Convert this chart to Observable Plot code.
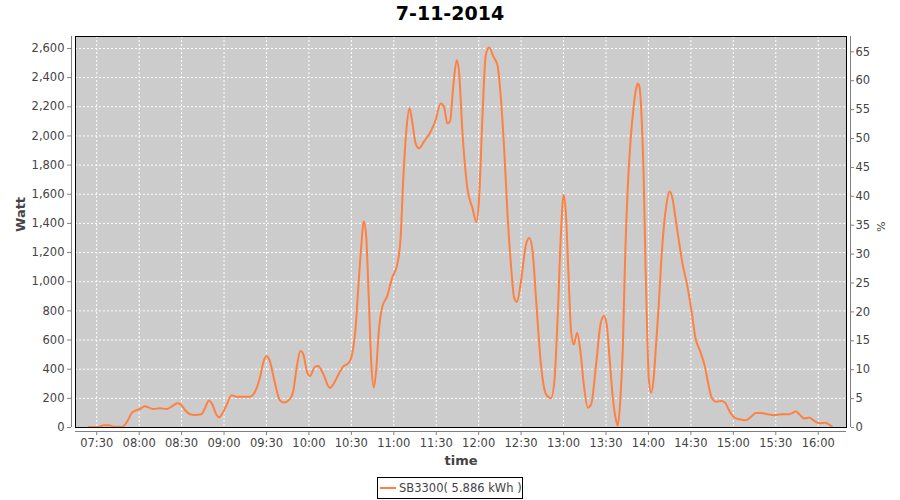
<!DOCTYPE html>
<html><head><meta charset="utf-8">
<script src="https://cdn.jsdelivr.net/npm/d3@7"></script>
<script src="https://cdn.jsdelivr.net/npm/@observablehq/plot@0.6"></script>
<style>
body{margin:0;background:#fff;font-family:"DejaVu Sans",sans-serif;}
#wrap{position:relative;width:900px;height:500px;overflow:hidden;background:#fff;}
#title{position:absolute;left:0;top:0;width:900px;height:27px;line-height:27px;text-align:center;font-weight:bold;font-size:19px;color:#000;}
#chart{position:absolute;left:0;top:30px;}
#legend{position:absolute;left:377px;top:477px;width:146px;height:22px;box-sizing:border-box;border:1px solid #000;font-size:11.5px;color:#444;display:flex;align-items:center;white-space:nowrap;}
#legend .sw{display:inline-block;width:16px;height:2px;margin-left:2px;margin-right:3px;}
</style></head>
<body><div id="wrap"><div id="title"></div><div id="chart"></div><div id="legend"></div></div>
<script>
const chartTitle = "7-11-2014";
const seriesName = "SB3300";
const seriesEnergy = "5.886 kWh";
const xAxisLabel = "time";
const yAxisLabel = "Watt";
const y2AxisLabel = "%";

const times = [
"07:24:06","07:31:00","07:35:00","07:39:00","07:42:00","07:48:00","07:51:30","07:54:42","07:57:00","08:00:30",
"08:04:00","08:06:30","08:10:00","08:14:36","08:19:24","08:22:54","08:26:54","08:29:18","08:32:24","08:35:54",
"08:39:24","08:44:00","08:46:30","08:49:18","08:51:54","08:54:42","08:56:36","08:58:54","09:01:48","09:05:18",
"09:08:48","09:13:30","09:18:12","09:21:36","09:25:12","09:28:12","09:30:00","09:32:12","09:35:48","09:39:24",
"09:42:12","09:46:30","09:48:48","09:51:36","09:54:00","09:55:54","09:58:42","10:00:36","10:04:06","10:06:30",
"10:10:00","10:14:42","10:18:12","10:21:48","10:24:36","10:26:24","10:29:18","10:30:30","10:32:48","10:35:12",
"10:37:06","10:38:42","10:40:24","10:42:18","10:43:54","10:45:48","10:47:30","10:49:24","10:51:42","10:55:18",
"10:58:48","11:02:24","11:04:48","11:06:36","11:09:00","11:11:06","11:13:00","11:15:24","11:17:48","11:21:18",
"11:26:00","11:29:36","11:33:06","11:35:30","11:37:48","11:39:42","11:42:06","11:44:30","11:46:06","11:48:30",
"11:52:00","11:55:36","11:58:24","12:00:18","12:02:42","12:05:00","12:07:24","12:10:30","12:13:18","12:15:42",
"12:18:00","12:20:24","12:22:48","12:25:06","12:27:00","12:29:54","12:33:24","12:35:48","12:38:06","12:40:30",
"12:44:00","12:47:36","12:51:06","12:53:30","12:55:54","12:58:12","13:00:06","13:01:48","13:03:24","13:05:18",
"13:07:12","13:09:36","13:11:54","13:14:18","13:17:06","13:19:30","13:23:00","13:26:06","13:28:30","13:30:30",
"13:32:30","13:34:48","13:37:12","13:38:24","13:40:12","13:41:54","13:43:30","13:45:24","13:47:18","13:49:24",
"13:51:18","13:52:30","13:53:36","13:55:18","13:56:42","13:57:54","13:59:06","14:00:12","14:01:54","14:03:30",
"14:05:24","14:07:18","14:08:54","14:10:48","14:12:42","14:14:48","14:16:42","14:18:48","14:21:12","14:24:12",
"14:27:18","14:30:06","14:33:12","14:36:30","14:39:30","14:42:24","14:44:42","14:47:48","14:51:18","14:54:06",
"14:57:12","15:00:42","15:04:12","15:08:54","15:12:30","15:16:00","15:19:30","15:24:12","15:28:54","15:33:36",
"15:39:30","15:44:12","15:46:36","15:50:06","15:53:36","15:57:12","16:00:42","16:04:42","16:09:36"
];
const watts = [
3,3,15,15,5,5,41,98,114,127,
145,138,127,132,127,143,166,159,120,91,
86,91,132,186,154,86,70,98,154,222,
211,211,211,240,336,461,488,461,313,188,
172,195,245,427,524,506,381,352,415,422,
370,272,313,381,422,430,460,502,661,1003,
1254,1414,1322,889,479,274,388,661,821,901,
1026,1117,1300,1687,2052,2189,2098,1949,1915,1961,
2029,2109,2223,2200,2086,2098,2348,2519,2440,2029,
1642,1505,1409,1573,2143,2554,2606,2542,2485,2257,
1915,1459,1117,889,862,1003,1254,1300,1208,889,
433,228,201,319,775,1345,1596,1436,1072,661,
570,650,524,296,137,160,433,707,764,707,
479,205,46,11,205,547,1163,1650,1961,2189,
2326,2360,2337,2098,1687,1117,661,342,239,319,
570,844,1117,1368,1528,1619,1585,1459,1300,1117,
980,821,616,524,433,296,205,176,182,171,
114,68,57,50,73,100,100,91,84,91,
91,109,91,62,68,46,30,32,7
];
const xTickLabels = ["07:30","08:00","08:30","09:00","09:30","10:00","10:30","11:00","11:30","12:00","12:30","13:00","13:30","14:00","14:30","15:00","15:30","16:00"];
const wattTicks = [0,200,400,600,800,1000,1200,1400,1600,1800,2000,2200,2400,2600];
const percentTicks = [0,5,10,15,20,25,30,35,40,45,50,55,60,65];
const xDomain = ["07:15:00","16:20:00"];
const wattMax = 2682;
const percentMax = 67.65;

const parseT = d3.utcParse("%H:%M:%S");
const parseHM = d3.utcParse("%H:%M");
const data = times.map((t, i) => ({time: parseT(t), watt: watts[i]}));
const xTicks = xTickLabels.map(parseHM);
const xd = xDomain.map(parseT);
const k = wattMax / percentMax;
const lineColor = "#ff8040";
const axisGray = "#808080";
const textGray = "#444444";
const grid = {stroke: "white", strokeOpacity: 1, strokeDasharray: "2,2", strokeWidth: 1};

document.getElementById("title").textContent = chartTitle;

const chart = Plot.plot({
  width: 900,
  height: 440,
  marginTop: 6,
  marginBottom: 43,
  marginLeft: 75,
  marginRight: 54,
  style: {fontFamily: "DejaVu Sans", fontSize: "11.5px", color: textGray, background: "transparent"},
  x: {type: "utc", domain: xd, label: null},
  y: {domain: [0, wattMax], label: null},
  marks: [
    Plot.frame({fill: "#cccccc", stroke: "none"}),
    Plot.gridX(xTicks, grid),
    Plot.gridY(wattTicks, grid),
    Plot.lineY(data, {x: "time", y: "watt", stroke: lineColor, strokeWidth: 2, curve: "monotone-x"}),
    Plot.frame({stroke: "black", strokeWidth: 1}),
    Plot.axisX(xTicks, {anchor: "bottom", tickSize: 4, tickPadding: 3, dy: 4, tickFormat: d3.utcFormat("%H:%M"), stroke: axisGray, color: textGray, label: null}),
    Plot.ruleY([0], {dy: 4, stroke: axisGray}),
    Plot.axisY(wattTicks, {anchor: "left", tickSize: 4, tickPadding: 3, dx: -4, tickFormat: d3.format(","), stroke: axisGray, color: textGray, label: null}),
    Plot.ruleX([xd[0]], {dx: -4, stroke: axisGray}),
    Plot.axisY(percentTicks.map(p => p * k), {anchor: "right", tickSize: 3, tickPadding: 2, dx: 4, tickFormat: d => String(Math.round(d / k)), stroke: axisGray, color: textGray, label: null}),
    Plot.ruleX([xd[1]], {dx: 4, stroke: axisGray}),
    Plot.text([yAxisLabel], {text: d => d, frameAnchor: "left", dx: -55, rotate: -90, fontSize: 13, fontWeight: "bold", fill: textGray, lineAnchor: "middle"}),
    Plot.text([xAxisLabel], {text: d => d, frameAnchor: "bottom", dy: 33, fontSize: 13, fontWeight: "bold", fill: textGray, lineAnchor: "middle"}),
    Plot.text([y2AxisLabel], {text: d => d, frameAnchor: "right", dx: 34, rotate: 90, fontSize: 11, fill: textGray, lineAnchor: "middle"})
  ]
});
document.getElementById("chart").appendChild(chart);

const lg = document.getElementById("legend");
const sw = document.createElement("span");
sw.className = "sw";
sw.style.background = lineColor;
lg.appendChild(sw);
const lt = document.createElement("span");
lt.textContent = seriesName + "( " + seriesEnergy + " )";
lg.appendChild(lt);
</script>
</body></html>
